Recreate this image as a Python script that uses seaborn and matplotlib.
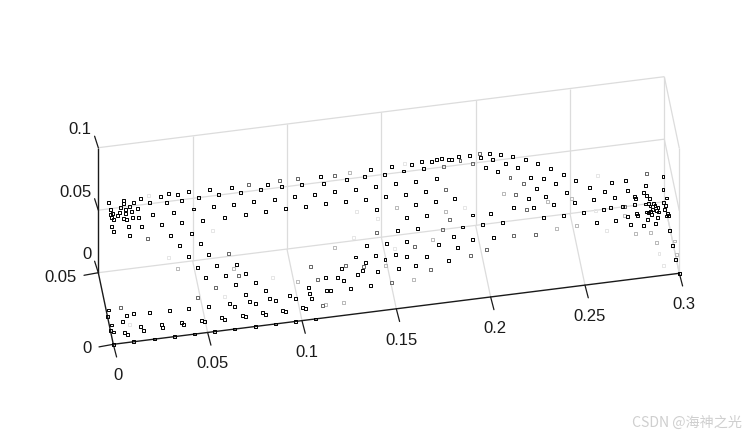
import pandas as pd
import seaborn as sns
import matplotlib.pyplot as plt

x_ticks = [0, 0.05, 0.1, 0.15, 0.2, 0.25, 0.3]
x_tick_labels = ["0", "0.05", "0.1", "0.15", "0.2", "0.25", "0.3"]
y_ticks = [0, 0.05]
y_tick_labels = ["0", "0.05"]
z_ticks = [0, 0.05, 0.1]
z_tick_labels = ["0", "0.05", "0.1"]

# points, back = on the y=0.05 side, front = on the y=0 side
dark_back_x = [.0053, .0064, .0117, .0133, .0133, .0143, .0164, .0186, .0207, .0223, .027, .0329, .036, .0371, .0419, .044, .0477, .0504, .053, .0588,
               .061, .0636, .0705, .0716, .0753, .0822, .0859, .0896, .0933, .097, .0991, .1076, .1039, .1097, .1145, .1177, .1193, .1203, .1251, .1309,
               .1314, .1362, .141, .1415, .1442, .1468, .1473, .1516, .1521, .1553, .1574, .1617, .1627, .1659, .168, .168, .1712, .1722, .1733, .1765,
               .1786, .1791, .1791, .1818, .1855, .1871, .1887, .1908, .1966, .2025, .2051, .2072, .2088, .2115, .2131, .2157, .2194, .2263, .2221, .2327,
               .229, .2396, .2359, .2465, .2324, .2422, .2528, .2279, .2369, .248, .2412, .2523, .2602, .2624, .2682, .2719, .2735, .2793, .2804, .22,
               .2306, .2677, .2714, .2777, .2841, .2841, .2846, .2889, .2899, .2904, .292, .2994, .2994, .2915, .2899,
               .0175, .0074, .0064, .0111, .0143, .0101, .0069, .0133, .0148, .018, .0212, .0286, .008, .0398, .0885, .0779, .0668, .0551, .044, .0334,
               .0069, .0159, .0228, .008, .0164, .0382, .0493, .0541, .0429, .0583, .0477, .1632, .1738, .1982, .2078, .2035, .1585, .1691, .1931]
dark_back_z = [.0553, .0495, .0501, .0551, .0527, .0477, .05, .0528, .0476, .0553, .0512, .0549, .0495, .0565, .0548, .0496, .0561, .0414, .0503, .0556,
               .0416, .0507, .055, .0412, .0501, .0416, .0505, .0538, .041, .0508, .0328, .0503, .0414, .0323, .041, .0549, .049, .0327, .0414, .0323,
               .0498, .041, .0504, .0319, .0554, .0414, .0228, .05, .0323, .0558, .0418, .0506, .0319, .0553, .0413, .0229, .0567, .0509, .0323, .0557,
               .0233, .0568, .0416, .0571, .0556, .0553, .0238, .057, .0567, .054, .0455, .0563, .0512, .0411, .0544, .0467, .0516, .0479, .0423, .0435,
               .033, .0382, .0309, .0321, .0235, .0254, .0261, .0164, .0162, .0174, .009, .0086, .019, .009, .0143, .0209, .0086, .021, .0129, .0107,
               .0087, .0001, .001, .0006, .001, .0074, .0057, .0097, .015, .007, .0042, .0204, .01, .0003, .0001,
               .0458, .0461, .0455, .0462, .0448, .044, .043, .041, .0399, .0409, .0403, .0413, .0412, .0408, .0324, .032, .0317, .0315, .032, .0324,
               .0358, .0341, .0328, .0316, .0268, .0227, .0222, .0133, .0138, .0037, .0041, .0134, .013, .0086, .0082, 0, .0039, .0035, 0]

dark_front_x = [.2915, .2862, .2872, .2888, .2926, .2857, .292, .2844, .2931,
                .2062, .2279, .2385, .2491, .256, .2661, .2724, .274, .2772, .2777, .2809, .2825, .283, .2836, .2846, .2851, .2873, .2878, .2883, .2889,
                .2936, .2942, .2931, .2947, .2963, .2979, .3,
                .0445, .0546, .0652, .0488, .0594, .07, .0647, .0753, .07, .0806, .0933, .0827, .0721, .0859, .0615, .0753, .0504, .0641, .0297, .0398,
                .0191, .0106, .0069, .0896, .0912, .079, .0806, .0684, .07, .0572, .0588, .036, .0371, .0466, .0482, .0048, .0254, .026, .0143, .0159,
                .0058, .0074,
                0, .0106, .0217, .0323, .0429, .0535, .0641, .0753, .0859, .0965, .1071,
                .1341, .1447, .1553, .1722, .1802, .1903, .2014, .1823, .1495, .1389, .1283, .1553, .1659, .1776, .1441, .1336, .1208, .132, .1601, .1511,
                .1399, .1293, .1124, .1187, .1219, .1362, .1034, .1256, .1129, .115, .1039, .0965, .105, .1002, .1018]
dark_front_z = [.0584, .0586, .0568, .055, .0558, .0539, .0527, .0568, .0614,
                .0586, .0585, .0581, .0585, .0491, .0488, .0508, .0442, .0523, .0506, .042, .0522, .0464, .0519, .0526, .05, .0424, .0527, .047, .051,
                .0492, .0475, .047, .0354, .0231, .0116, 0,
                .0532, .0529, .0517, .0444, .044, .0435, .0358, .0354, .0267, .0279, .0215, .0211, .0207, .019, .0212, .0186, .0209, .0182, .0216, .0213,
                .022, .0228, .0219, .0102, .0091, .0106, .0087, .0102, .0091, .0108, .0089, .0108, .009, .0104, .0093, .0175, .0112, .0087, .0117, .0082,
                .0085, .0066,
                0, 0, 0, 0, 0, 0, 0, 0, 0, 0, 0,
                .0538, .0534, .053, .0474, .0523, .048, .0474, .0431, .0437, .0449, .0454, .0407, .039, .0336, .0407, .0403, .0379, .0342, .0329, .0322,
                .0319, .0315, .0323, .0311, .0282, .0214, .026, .021, .0218, .0214, .0211, .0186, .017, .0106, .0095]

# the few on the left edge of the floor
edge_x = [.0011, 0, .0011, 0, .0013]
edge_y = [.0237, .0196, .0133, .0098, .0084]

mid_back_x = [.0795, .0959, .1055, .1251, .1828, .1839, .1918, .1982, .2019, .2182, .2253, .221, .2268, .2788, .2904, .026, .186, .1823, .1473]
mid_back_z = [.0557, .0558, .0555, .0542, .0505, .0319, .0536, .05, .0573, .035, .0289, .0209, .0078, 0, .0246, .0226, .0075, 0, .0044]
mid_front_x = [.0609, .0662, .0541, .0445, .0037, .212, .2237, .1595, .1977, .1892, .123, .1044, .1325, .168, .1081, .1473, .1108]
mid_front_z = [.0613, .0426, .0354, .0292, .0289, .047, .0457, .0482, .0386, .0354, .0399, .0426, .0373, .0282, .0315, .0217, .0102]

light_back_x = [.133, .158, .2146, .238, .2507, .1839]
light_back_z = [.0551, .0224, .0229, .0121, .0121, .0143]
light_front_x = [.0339, .0636, .0975, .1691, .1442, .1171, .159, .1219, .1124, .2348, .2454, .2708, .2767, .2846, .2878, .2973, .2984]
light_front_z = [.0544, .0488, .0319, .052, .0359, .0554, .0219, .0106, .0107, .0483, .0487, .0519, .0364, .0358, .0271, .0262, .0155]

faint_back_x = [.0265, .1622, .194, .2645, .0604, .1367, .1479, .2634]
faint_back_z = [.0569, .0568, .0156, .0278, .0225, .0232, .0155, 0]
faint_front_x = [.0292, .0843, .0588, .1272, .1489, .2613, .2893, .2915, .0085]
faint_front_z = [.0641, .0377, .0273, .0615, .0486, .0418, .018, .008, .0144]

AXIS = "#1a1a1a"
GRID = "#dcdcdc"


def project(x, y, z):
    # oblique view of the box, returns picture pixels
    u = 113.3 + 1886.7 * x - 300 * y
    v = 344.3 - 236.7 * x - 1432 * y - 1250 * z
    return u, v


def edge(ax, a, b, color, lw=0.9):
    ua, va = project(*a)
    ub, vb = project(*b)
    ax.plot([ua, ub], [va, vb], color=color, lw=lw, solid_capstyle="butt", zorder=1)


def make_frame(x, y, z):
    u, v = project(pd.Series(x, dtype=float), pd.Series(y, dtype=float), pd.Series(z, dtype=float))
    return pd.DataFrame({"u": u, "v": v})


sns.set_theme(style="white")
plt.rcParams["font.family"] = ["Liberation Sans", "DejaVu Sans"]

fig = plt.figure(figsize=(7.5, 4.37), dpi=100)
ax = fig.add_axes([0, 0, 1, 1])
ax.set_xlim(0, 750)
ax.set_ylim(437, 0)
ax.axis("off")

xmax, ymax, zmax = x_ticks[-1], y_ticks[-1], z_ticks[-1]

# grid on the walls and the floor
for t in x_ticks[1:]:
    edge(ax, (t, ymax, 0), (t, ymax, zmax), GRID)
    edge(ax, (t, 0, 0), (t, ymax, 0), GRID)
for t in z_ticks:
    edge(ax, (0, ymax, t), (xmax, ymax, t), GRID)
    edge(ax, (xmax, 0, t), (xmax, ymax, t), GRID)
edge(ax, (xmax, 0, 0), (xmax, 0, zmax), GRID)

# black axes and ticks
edge(ax, (0, 0, 0), (xmax, 0, 0), AXIS, 1.0)
edge(ax, (0, 0, 0), (0, ymax, 0), AXIS, 1.0)
edge(ax, (0, ymax, 0), (0, ymax, zmax), AXIS, 1.0)

for t, lab in zip(x_ticks, x_tick_labels):
    u, v = project(t, 0, 0)
    ax.plot([u, u + 3.3], [v, v + 12.7], color=AXIS, lw=0.9, zorder=1)
    ax.text(u + 4.7, v + 31.5, lab, fontsize=12, color=AXIS, ha="center", va="center")
for t, lab in zip(y_ticks, y_tick_labels):
    u, v = project(0, t, 0)
    ax.plot([u, u - 14.3], [v, v + 2.6], color=AXIS, lw=0.9, zorder=1)
    ax.text(u - 21.5, v + 4.5, lab, fontsize=12, color=AXIS, ha="right", va="center")
for t, lab in zip(z_ticks, z_tick_labels):
    u, v = project(0, ymax, t)
    ax.plot([u, u - 3.7], [v, v - 11.5], color=AXIS, lw=0.9, zorder=1)
    ax.text(u - 6.8, v - 18, lab, fontsize=12, color=AXIS, ha="right", va="center")

# the points, palest first
groups = [
    ("#e6e6e6", faint_back_x, faint_back_z, faint_front_x, faint_front_z),
    ("#b8b8b8", light_back_x, light_back_z, light_front_x, light_front_z),
    ("#666666", mid_back_x, mid_back_z, mid_front_x, mid_front_z),
    ("#000000", dark_back_x, dark_back_z, dark_front_x, dark_front_z),
]
for shade, bx, bz, fx, fz in groups:
    back = make_frame(bx, [ymax] * len(bx), bz)
    front = make_frame(fx, [0] * len(fx), fz)
    pts = pd.concat([back, front])
    sns.scatterplot(data=pts, x="u", y="v", marker="s", s=3.6, facecolor="none",
                    edgecolor=shade, linewidth=0.7, ax=ax, zorder=3, legend=False)

left = make_frame(edge_x, edge_y, [0] * len(edge_x))
sns.scatterplot(data=left, x="u", y="v", marker="s", s=3.6, facecolor="none",
                edgecolor="#000000", linewidth=0.7, ax=ax, zorder=3, legend=False)
ax.set_xlabel("")
ax.set_ylabel("")

ax.text(632, 423, "CSDN @海神之光", fontsize=10.2, color="#cfcfcf", ha="left", va="center",
        family=["Noto Sans CJK SC", "DejaVu Sans"])

fig.savefig("out.png", dpi=100)
